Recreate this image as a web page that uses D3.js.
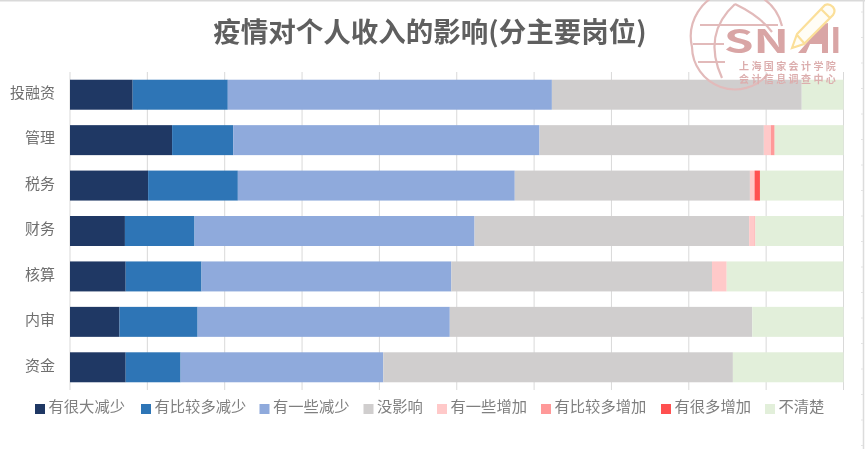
<!DOCTYPE html>
<html><head><meta charset="utf-8">
<script src="https://cdnjs.cloudflare.com/ajax/libs/d3/7.8.5/d3.min.js"></script>
<style>html,body{margin:0;padding:0;background:#fff}svg{display:block;filter:blur(0.35px)}text{font-family:"Noto Sans CJK SC",sans-serif}</style>
</head><body><svg id="c" width="865" height="449"></svg>
<script>
const categories=["投融资","管理","税务","财务","核算","内审","资金"];
const seriesNames=["有很大减少","有比较多减少","有一些减少","没影响","有一些增加","有比较多增加","有很多增加","不清楚"];
const seriesColors=["#1f3864","#2e75b6","#8faadc","#d0cece","#ffc9c9","#ff9999","#ff5050","#e2efda"];
const s1=[8.1,13.2,10.1,7.1,7.2,6.4,7.2];
const s2=[12.3,7.9,11.6,9.0,9.8,10.1,7.1];
const s3=[41.9,39.6,35.8,36.2,32.3,32.6,26.2];
const s4=[32.3,29.0,30.4,35.5,33.7,39.1,45.2];
const s5=[0,0.9,0.6,0.7,1.9,0,0];
const s6=[0,0.5,0,0.1,0,0,0];
const s7=[0,0,0.7,0,0,0,0];
const s8=[5.4,8.9,10.8,11.4,15.1,11.8,14.3];
const allSeries=[s1,s2,s3,s4,s5,s6,s7,s8];
const tickValues=[0,10,20,30,40,50,60,70,80,90,100];
const legendX=[35,141,259.5,363.5,437,541,661,765];
const titleText="疫情对个人收入的影响(分主要岗位)";
const logoLine1="上海国家会计学院", logoLine2="会计信息调查中心";

const svg=d3.select("#c");
svg.append("rect").attr("width",865).attr("height",449).attr("fill","#fff");
const x=d3.scaleLinear().domain([0,100]).range([70,843.5]);
const y=d3.scaleBand().domain(categories).range([72,390]).paddingInner(0.34).paddingOuter(0.17);

// screenshot edges
svg.append("rect").attr("width",865).attr("height",1.5).attr("fill","#d9d9d9");
svg.append("line").attr("x1",863.5).attr("x2",863.5).attr("y1",0).attr("y2",449).attr("stroke","#dcdcdc").attr("stroke-width",1.5);
svg.append("g").selectAll("line").data(d3.range(12,449,25.5)).join("line")
 .attr("x1",861).attr("x2",863).attr("y1",d=>d).attr("y2",d=>d).attr("stroke","#e4e4e4");

// gridlines
svg.append("g").selectAll("line").data(tickValues).join("line")
 .attr("x1",d=>x(d)).attr("x2",d=>x(d)).attr("y1",72).attr("y2",390)
 .attr("stroke","#d9d9d9").attr("stroke-width",1);

// bars
const rows=categories.map((c,i)=>{const o={cat:c};seriesNames.forEach((n,j)=>o[n]=allSeries[j][i]);return o;});
const stack=d3.stack().keys(seriesNames).offset(d3.stackOffsetExpand)(rows);
svg.append("g").selectAll("g").data(stack).join("g").attr("fill",(d,i)=>seriesColors[i])
 .selectAll("rect").data(d=>d).join("rect")
 .attr("x",d=>x(d[0]*100)).attr("width",d=>x(d[1]*100)-x(d[0]*100))
 .attr("y",d=>y(d.data.cat)).attr("height",y.bandwidth());

// category axis
svg.append("g").selectAll("text").data(categories).join("text")
 .attr("x",55).attr("y",d=>y(d)+y.bandwidth()/2-2).attr("dy","0.35em").attr("text-anchor","end")
 .attr("font-size",15).attr("fill","#6f6f6f").text(d=>d);

// title
svg.append("text").attr("x",430).attr("y",42).attr("text-anchor","middle")
 .attr("font-size",27.5).attr("font-weight",700).attr("fill","#5f5f5f").text(titleText);

// legend
const lg=svg.append("g").selectAll("g").data(seriesNames).join("g").attr("transform",(d,i)=>`translate(${legendX[i]},0)`);
lg.append("rect").attr("y",404).attr("width",10).attr("height",10).attr("fill",(d,i)=>seriesColors[i]);
lg.append("text").attr("x",13.5).attr("y",407).attr("dy","0.35em").attr("font-size",15.3).attr("fill","#7f7f7f").text(d=>d);

// logo watermark
const logo=svg.append("g");
const c="#dcaeae";
const globe=logo.append("g").attr("fill","none").attr("stroke","#e2baba").attr("stroke-width",2.2);
globe.append("path").attr("d","M768 74 A43 43 0 0 1 692 47 A43 43 0 0 1 782 26");
globe.append("path").attr("d","M735 4 Q702 34 722 78");
globe.append("path").attr("d","M735 4 Q760 16 772 32");
globe.append("path").attr("d","M700 25 H778 M693 44 H724 M698 62 H725");
logo.append("text").attr("x",724).attr("y",53).attr("font-family","Liberation Sans").attr("font-weight",700)
 .attr("font-size",32).attr("fill","#d9a5a5").attr("textLength",65).attr("lengthAdjust","spacingAndGlyphs").text("SN");
logo.append("path").attr("d","M798 53 L823 24 L828 23 V53 H822 V44 H810 L806 53 Z").attr("fill","#d9a5a5");
logo.append("text").attr("x",830).attr("y",53).attr("font-family","Liberation Sans").attr("font-weight",700)
 .attr("font-size",35).attr("fill","#d9a5a5").text("I");
logo.append("text").attr("x",739).attr("y",69.5).attr("font-size",10).attr("fill",c).attr("letter-spacing",2.4).attr("font-weight",700).text(logoLine1);
logo.append("text").attr("x",739).attr("y",83).attr("font-size",10).attr("fill",c).attr("letter-spacing",2.4).attr("font-weight",700).text(logoLine2);
logo.append("path").attr("d","M792 48 L797 34 L825 5 Q829 3 833 7 Q836 11 833 15 L804 44 Z M797 35 L804 43 M821 9 L830 18").attr("fill","#fffdf5").attr("stroke","#fbdf99").attr("stroke-width",2.2);
</script></body></html>
